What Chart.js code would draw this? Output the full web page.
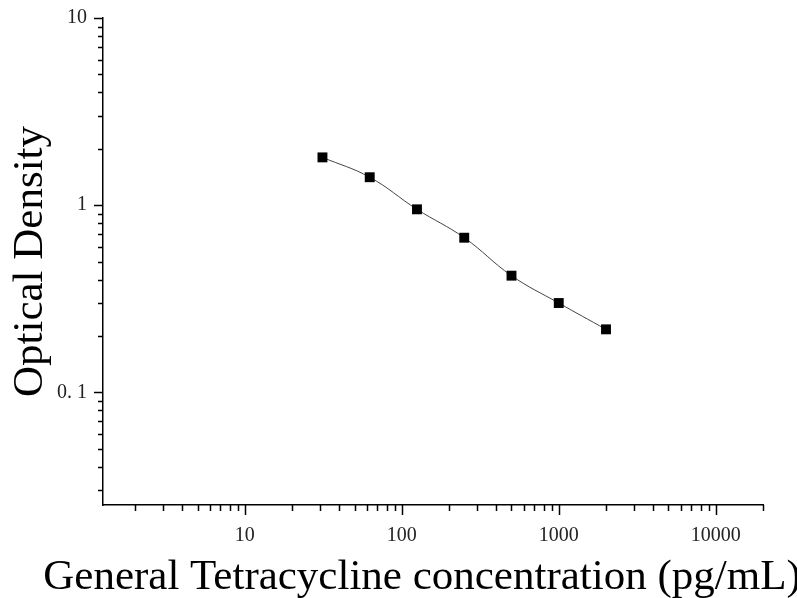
<!DOCTYPE html>
<html lang="en">
<head>
  <meta charset="UTF-8">
  <title>General Tetracycline standard curve</title>
  <script src="https://cdn.jsdelivr.net/npm/chart.js"></script>
  <style>
    body {
      margin: 0;
      background: #fff;
    }
    canvas {
      display: block;
    }
  </style>
</head>
<body>

<canvas id="curveChart" width="797" height="598"></canvas>

<script>
  // standard concentrations (pg/mL) and measured OD
  const concentrations = [31.25, 62.5, 125, 250, 500, 1000, 2000];
  const opticalDensity = [1.80, 1.41, 0.95, 0.67, 0.42, 0.30, 0.217];

  // labelled decades on each axis
  const xMajorTicks = [10, 100, 1000, 10000];
  const xMajorLabels = ["10", "100", "1000", "10000"];
  const yMajorTicks = [0.1, 1, 10];
  const yMajorLabels = ["0. 1", "1", "10"];

  const X_MIN = 1.25, X_MAX = 20000;
  const Y_MIN = 0.025, Y_MAX = 10;

  const serif = "'Liberation Serif', 'DejaVu Serif', serif";
  const xTitle = "General Tetracycline concentration (pg/mL)";

  // 1..9 steps inside every decade, kept inside the axis range
  function logTicks(min, max) {
    const out = [];
    for (let e = Math.floor(Math.log10(min)); e <= Math.ceil(Math.log10(max)); e++) {
      for (let m = 1; m <= 9; m++) {
        const v = +(m * Math.pow(10, e)).toPrecision(6);
        if (v >= min * 0.999 && v <= max * 1.001) out.push(v);
      }
    }
    return out;
  }

  function isMajor(list, v) {
    return list.some(t => Math.abs(t - v) / t < 1e-6);
  }

  // outward major/minor tick marks, plus the wide x title
  // (the built-in title gets squeezed to the axis width)
  const axisExtras = {
    id: "axisExtras",
    afterDraw(chart) {
      const ctx = chart.ctx;
      const xs = chart.scales.x, ys = chart.scales.y;
      ctx.save();
      ctx.strokeStyle = "#000";
      ctx.lineWidth = 1.5;
      ctx.beginPath();
      logTicks(X_MIN, X_MAX).forEach(v => {
        const px = Math.round(xs.getPixelForValue(v)) + 0.5;
        const len = isMajor(xMajorTicks, v) ? 10 : 6;
        ctx.moveTo(px, xs.top);
        ctx.lineTo(px, xs.top + len);
      });
      logTicks(Y_MIN, Y_MAX).forEach(v => {
        const py = Math.round(ys.getPixelForValue(v)) + 0.5;
        const len = isMajor(yMajorTicks, v) ? 9 : 5;
        ctx.moveTo(ys.right, py);
        ctx.lineTo(ys.right - len, py);
      });
      ctx.stroke();

      ctx.fillStyle = "#000";
      ctx.font = "43px " + serif;
      ctx.textAlign = "center";
      ctx.textBaseline = "middle";
      ctx.fillText(xTitle, 422, 578);
      ctx.restore();
    }
  };

  new Chart(document.getElementById("curveChart"), {
    type: "line",
    data: {
      datasets: [{
        data: concentrations.map((c, i) => ({ x: c, y: opticalDensity[i] })),
        borderColor: "#444",
        borderWidth: 1,
        tension: 0.4,
        pointStyle: "rect",
        pointRadius: 7,
        pointBackgroundColor: "#000",
        pointBorderColor: "#000",
        pointBorderWidth: 0,
        fill: false
      }]
    },
    options: {
      responsive: false,
      animation: false,
      layout: { padding: { top: 18, right: 34, left: 0, bottom: 0 } },
      plugins: {
        legend: { display: false },
        tooltip: { enabled: false }
      },
      scales: {
        x: {
          type: "logarithmic",
          min: X_MIN,
          max: X_MAX,
          afterBuildTicks: s => { s.ticks = xMajorTicks.map(v => ({ value: v })); },
          afterFit: s => { s.height = 93; s.paddingRight = 0; },
          border: { display: true, color: "#000", width: 1.5 },
          grid: { display: false, drawTicks: false },
          ticks: {
            autoSkip: false,
            maxRotation: 0,
            padding: 19,
            color: "#222",
            font: { family: serif, size: 20 },
            callback: v => xMajorLabels[xMajorTicks.findIndex(t => Math.abs(t - v) / t < 1e-6)] || ""
          }
        },
        y: {
          type: "logarithmic",
          min: Y_MIN,
          max: Y_MAX,
          afterBuildTicks: s => { s.ticks = yMajorTicks.map(v => ({ value: v })); },
          afterFit: s => { s.width = 103; s.paddingTop = 0; s.paddingBottom = 0; },
          border: { display: true, color: "#000", width: 1.5 },
          grid: { display: false, drawTicks: false },
          ticks: {
            autoSkip: false,
            padding: 16,
            color: "#222",
            font: { family: serif, size: 20 },
            callback: v => yMajorLabels[yMajorTicks.findIndex(t => Math.abs(t - v) / t < 1e-6)] || ""
          },
          title: {
            display: true,
            text: "Optical Density",
            color: "#000",
            font: { family: serif, size: 43 },
            padding: { top: 5, bottom: 0 }
          }
        }
      }
    },
    plugins: [axisExtras]
  });
</script>

</body>
</html>
